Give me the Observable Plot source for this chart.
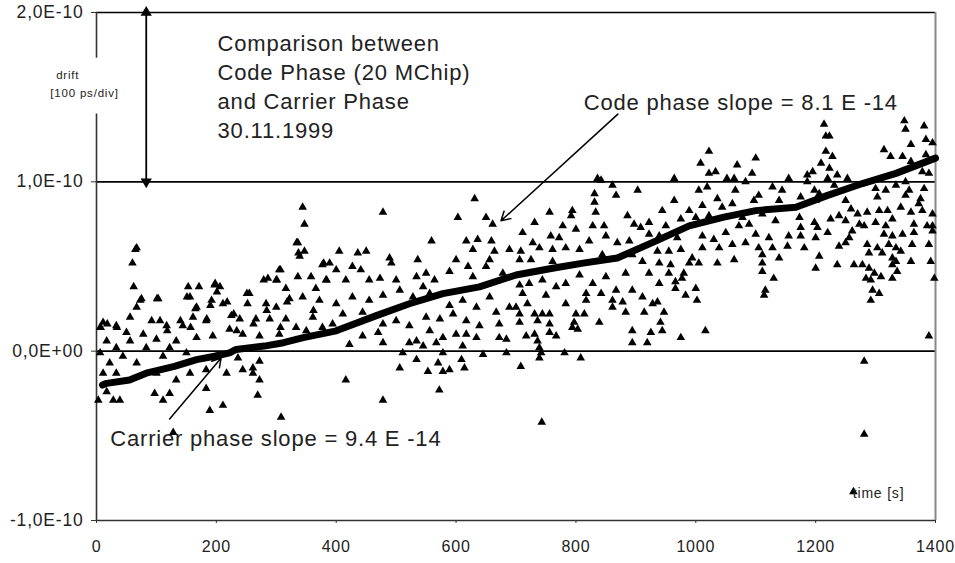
<!DOCTYPE html>
<html><head><meta charset="utf-8">
<script src="https://cdn.jsdelivr.net/npm/d3@7"></script>
<script src="https://cdn.jsdelivr.net/npm/@observablehq/plot@0.6"></script>
<style>
html,body{margin:0;padding:0;background:#fff;}
#chart svg text{font-family:"Liberation Sans",Arial,sans-serif;letter-spacing:0.8px;}
</style></head><body><div id="chart"></div>
<script>
// drift values in units of 1e-10 s (100 ps/div), time in s
const codeT = [
67,60,62,75,103,67,56,92,106,153,171,156,197,206,192,167,211,161,183,144,117,33,11,6,50,78,17,56,100,133,167,194,222,225,33,83,122,6,44,111,150,22,67,11,33,100,133,156,183,217,17,28,39,97,111,122,183,189,211,3,128,
65,73,101,7,18,34,151,198,201,218,190,165,140,118,157,184,229,251,279,301,307,334,337,284,318,262,307,234,362,379,384,
344,347,336,347,339,405,436,450,305,286,300,377,389,400,427,441,255,252,316,336,358,366,383,416,455,283,300,322,344,372,400,427,455,239,266,289,316,333,361,377,394,411,444,244,272,305,350,444,422,244,261,272,261,272,269,416,236,308,
478,631,603,650,559,617,628,636,661,659,664,689,489,492,536,600,620,650,656,473,500,534,550,589,628,678,564,478,506,528,545,556,589,611,634,656,667,689,478,500,522,550,573,595,617,639,672,470,556,578,600,617,634,672,684,478,522,534,567,545,611,511,534,578,609,645,684,506,553,570,578,589,614,572,478,
836,842,861,831,867,903,831,756,794,792,833,886,731,778,800,828,847,897,922,908,711,758,772,822,850,869,889,922,728,708,739,761,783,806,844,894,911,706,725,761,806,850,883,922,706,722,744,767,783,828,867,894,911,711,750,783,817,842,817,861,878,928,719,700,706,731,744,756,800,814,861,883,914,706,736,756,797,839,794,803,717,731,756,767,894,925,736,894,919,739,742,739,781,808,708,743,
1022,1100,1008,1069,1094,1022,1033,964,1052,1064,1083,1155,1019,1005,1066,1128,1144,964,1036,1105,1097,944,989,1011,1044,1061,1139,975,1000,1022,1078,1111,950,1072,1089,1133,939,969,1011,1030,1050,1100,1122,1155,1011,1039,1061,1083,1105,1128,1153,936,955,975,994,1064,1111,1139,939,958,989,1005,1036,1111,955,980,1111,1130,939,966,977,966,1000,1116,1114,1002,983,936,947,941,944,1016,975,
1214,1348,1350,1381,1217,1223,1384,1359,1395,1217,1228,1314,1325,1345,1359,1384,1209,1223,1195,1186,1236,1378,1389,1253,1220,1334,1350,1381,1186,1231,1300,1317,1356,1198,1175,1206,1303,1350,1375,1250,1200,1342,1372,1259,1286,1306,1320,1359,1378,1395,1270,1173,1225,1239,1328,1198,1250,1273,1300,1317,1364,1386,1395,1175,1203,1261,1281,1345,1364,1395,1175,1200,1220,1314,1328,1256,1181,1239,1250,1286,1303,1322,1334,1361,1389,1289,1311,1342,1206,1328,1200,1236,1264,1278,1334,1359,1392,1328,1289,1298,1336,1284,1309,1328,1398,1292,1295,1306,1292,1389,1281,1281,1263
];
const codeV = [
0.61,0.52,0.38,0.31,0.31,0.26,0.20,0.18,0.18,0.38,0.38,0.32,0.39,0.38,0.30,0.26,0.28,0.20,0.18,0.15,0.15,0.15,0.17,0.14,0.11,0.10,0.06,0.06,0.07,0.06,0.08,0.09,0.13,0.21,0.02,0.02,0.02,-0.01,-0.03,-0.03,-0.01,-0.07,-0.07,-0.13,-0.13,-0.13,-0.17,-0.13,-0.11,-0.13,-0.24,-0.29,-0.29,-0.25,-0.29,-0.25,-0.22,-0.35,-0.32,-0.29,-0.48,
0.60,0.30,0.31,0.14,0.16,0.14,0.32,0.40,0.35,0.29,0.27,0.25,0.18,0.12,0.14,0.19,0.22,0.34,0.42,0.42,0.48,0.64,0.58,0.24,0.29,0.16,0.14,0.12,0.24,0.52,0.42,
0.85,0.75,0.64,0.59,0.56,0.59,0.58,0.59,0.48,0.43,0.42,0.51,0.52,0.48,0.50,0.48,0.34,0.28,0.37,0.44,0.44,0.37,0.42,0.42,0.42,0.28,0.26,0.31,0.32,0.30,0.28,0.32,0.30,0.19,0.19,0.19,0.19,0.14,0.20,0.14,0.16,0.22,0.23,0.10,0.09,0.10,0.12,0.09,0.04,-0.11,-0.10,-0.06,-0.13,-0.17,-0.26,-0.17,-0.04,-0.39,
0.82,0.90,0.79,0.79,0.65,0.65,0.60,0.66,0.75,0.65,0.59,0.60,0.55,0.52,0.54,0.54,0.50,0.50,0.54,0.43,0.42,0.44,0.46,0.47,0.44,0.46,0.42,0.33,0.36,0.32,0.38,0.34,0.27,0.30,0.26,0.32,0.23,0.26,0.16,0.18,0.15,0.20,0.19,0.22,0.18,0.15,0.16,0.11,0.12,0.08,0.10,0.10,0.08,0.08,0.07,0.05,0.05,0.06,0.05,0.03,0.03,-0.01,-0.05,-0.01,-0.05,-0.02,-0.01,-0.10,-0.12,-0.07,-0.12,-0.11,-0.10,-0.23,-0.29,
1.02,1.01,0.98,0.93,0.92,0.95,0.88,0.82,0.83,0.80,0.82,0.80,0.76,0.74,0.72,0.74,0.74,0.75,0.76,0.73,0.70,0.68,0.67,0.65,0.68,0.64,0.65,0.69,0.64,0.59,0.61,0.60,0.61,0.60,0.57,0.57,0.53,0.54,0.54,0.53,0.45,0.44,0.46,0.46,0.39,0.40,0.42,0.38,0.40,0.40,0.36,0.36,0.32,0.34,0.33,0.28,0.34,0.34,0.30,0.30,0.29,0.28,0.28,0.26,0.22,0.22,0.22,0.22,0.22,0.22,0.26,0.23,0.23,0.17,0.18,0.16,0.17,0.17,0.14,0.13,0.09,0.10,0.11,0.09,0.12,0.11,0.06,0.05,0.05,0.02,-0.01,-0.04,-0.01,-0.04,-0.09,-0.42,
1.18,1.14,1.11,1.10,1.05,1.05,1.06,1.02,1.02,1.02,1.00,1.02,0.97,0.95,0.95,0.97,0.95,0.89,0.90,0.92,0.89,0.83,0.83,0.86,0.85,0.87,0.89,0.78,0.79,0.80,0.79,0.81,0.74,0.74,0.75,0.77,0.68,0.67,0.68,0.66,0.70,0.69,0.67,0.68,0.61,0.61,0.63,0.64,0.61,0.61,0.62,0.59,0.59,0.60,0.55,0.54,0.57,0.55,0.52,0.51,0.52,0.52,0.52,0.52,0.46,0.46,0.47,0.43,0.40,0.41,0.43,0.37,0.37,0.36,0.33,0.30,0.33,0.29,0.23,0.17,0.12,0.12,0.08,
1.34,1.36,1.31,1.33,1.27,1.27,1.25,1.22,1.23,1.18,1.15,1.19,1.15,1.15,1.12,1.16,1.11,1.08,1.06,1.04,1.04,1.06,1.05,1.02,1.02,0.98,1.00,0.96,1.00,0.98,0.96,0.95,0.95,0.95,0.91,0.93,0.91,0.92,0.90,0.89,0.89,0.85,0.87,0.84,0.82,0.83,0.83,0.82,0.83,0.81,0.81,0.79,0.78,0.80,0.78,0.76,0.77,0.75,0.76,0.74,0.75,0.74,0.74,0.73,0.73,0.71,0.74,0.69,0.70,0.71,0.68,0.67,0.70,0.69,0.68,0.67,0.61,0.62,0.64,0.63,0.61,0.63,0.61,0.63,0.63,0.58,0.58,0.59,0.56,0.55,0.49,0.51,0.51,0.51,0.53,0.53,0.53,0.51,0.49,0.46,0.47,0.43,0.44,0.43,0.43,0.42,0.36,0.34,0.30,0.09,-0.06,-0.49,-0.83
];
const carrierT = [10,17,55,83,130,167,197,222,233,280,312,345,400,467,522,578,639,700,761,812,869,933,989,1045,1100,1167,1220,1278,1334,1400];
const carrierV = [-0.20,-0.19,-0.17,-0.13,-0.09,-0.05,-0.03,-0.01,0.01,0.03,0.05,0.08,0.12,0.21,0.28,0.34,0.38,0.45,0.49,0.52,0.55,0.65,0.74,0.79,0.83,0.85,0.92,0.99,1.05,1.14];

const xTicks = [0,200,400,600,800,1000,1200,1400];
const yTicks = [-1,0,1,2];
const yTickLabels = ["-1,0E-10","0,0E+00","1,0E-10","2,0E-10"];
const gridValues = [0,1,2];

const titleLines = ["Comparison between","Code Phase (20 MChip)","and Carrier Phase","30.11.1999"];
const titleAnchor = [{t:202, v:1.569, text:titleLines.join("\n")}];
const annotationTexts = [
  {t:813, v:1.463, text:"Code phase slope = 8.1 E -14", size:22},
  {t:23, v:-0.516, text:"Carrier phase slope = 9.4 E -14", size:22},
  {t:1262, v:-0.84, text:"time [s]", size:14}
];
const sideLabels = [
  {t:-48, v:1.632, text:"drift"},
  {t:-20, v:1.522, text:"[100 ps/div]"}
];
const pointerArrows = [
  {t1:870, v1:1.40, t2:675, v2:0.77},
  {t1:122, v1:-0.40, t2:208, v2:-0.04}
];
const spanArrow = [{t:83, v1:1.99, v2:1.01}];
const spanHeads = [{t:83, v:2.0, dir:0}, {t:83, v:1.0, dir:180}];
const leftAxisSegments = [{v1:-1, v2:1.40},{v1:1.73, v2:2.0}];

const codePts = codeT.map((t,i)=>({t, v:codeV[i]}));
const carrierPts = carrierT.map((t,i)=>({t, v:carrierV[i]}));

const chart = Plot.plot({
  width:955, height:563,
  marginLeft:96, marginRight:20, marginTop:12, marginBottom:43,
  x:{domain:[0,1400]},
  y:{domain:[-1,2]},
  style:{fontFamily:"Liberation Sans, Arial, sans-serif", background:"white", color:"#222"},
  marks:[
    Plot.ruleY(gridValues, {stroke:"black", strokeWidth:1.6}),
    Plot.ruleY([-1], {stroke:"#333", strokeWidth:1.6}),
    Plot.ruleX([1400], {stroke:"#888", strokeWidth:2}),
    Plot.ruleX(leftAxisSegments, {x:0, y1:"v1", y2:"v2", stroke:"#333", strokeWidth:1.6}),
    Plot.axisX({ticks:xTicks, tickSize:3, tickPadding:17, fontSize:16, tickFormat:d=>String(d), stroke:"#333"}),
    Plot.axisY({ticks:yTicks, tickSize:5, tickPadding:8, fontSize:17.5, tickFormat:d=>yTickLabels[yTicks.indexOf(d)], stroke:"#333"}),
    Plot.dot(codePts, {x:"t", y:"v", symbol:"triangle", r:3.2, fill:"black", stroke:"none"}),
    Plot.line(carrierPts, {x:"t", y:"v", stroke:"black", strokeWidth:7, strokeLinejoin:"round", strokeLinecap:"round"}),
    Plot.link(spanArrow, {x1:"t", x2:"t", y1:"v1", y2:"v2", stroke:"black", strokeWidth:1.8}),
    Plot.dot(spanHeads, {x:"t", y:"v", symbol:"triangle", r:4.2, rotate:"dir", fill:"black", stroke:"none"}),
    Plot.arrow(pointerArrows, {x1:"t1", y1:"v1", x2:"t2", y2:"v2", stroke:"black", strokeWidth:1.5, headLength:10}),
    Plot.text(titleAnchor, {x:"t", y:"v", text:"text", fontSize:22, lineHeight:1.32, textAnchor:"start", fill:"#222"}),
    Plot.text(annotationTexts, {x:"t", y:"v", text:"text", fontSize:d=>d.size, textAnchor:"start", fill:"#222"}),
    Plot.text(sideLabels, {x:"t", y:"v", text:"text", fontSize:11.5, textAnchor:"middle", fill:"#222"})
  ]
});
document.getElementById("chart").appendChild(chart);
</script></body></html>
